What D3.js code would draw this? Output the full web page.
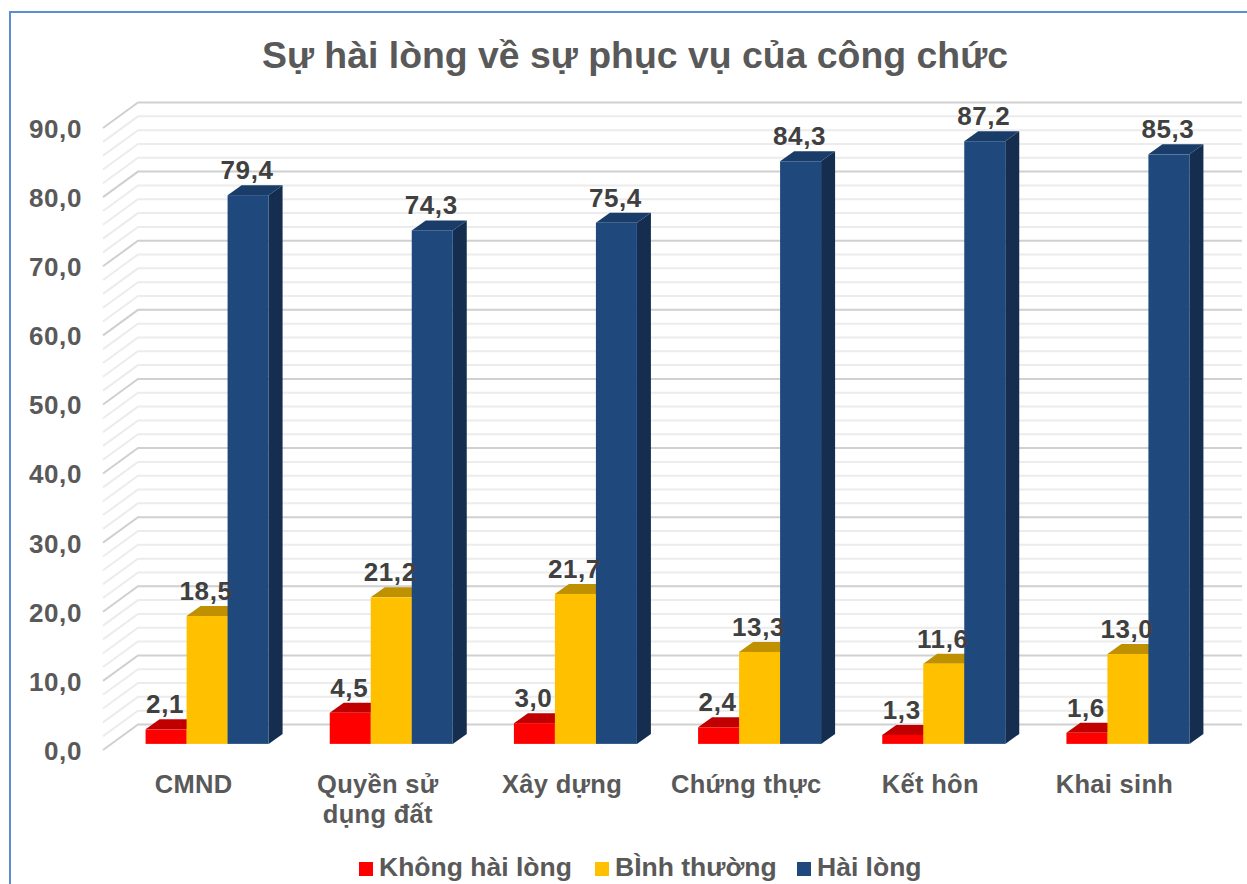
<!DOCTYPE html>
<html>
<head>
<meta charset="utf-8">
<script src="https://cdn.jsdelivr.net/npm/d3@7"></script>
<style>
  body { margin: 0; background: #fff; }
  text { font-family: "Liberation Sans", Arial, sans-serif; font-weight: bold; }
</style>
</head>
<body>
<svg id="chart" width="1247" height="884"></svg>
<script>
const categories = ["CMND", "Quyền sử|dụng đất", "Xây dựng", "Chứng thực", "Kết hôn", "Khai sinh"];
const series = ["Không hài lòng", "BÌnh thường", "Hài lòng"];
const khong_hai_long = [2.1, 4.5, 3.0, 2.4, 1.3, 1.6];
const binh_thuong = [18.5, 21.2, 21.7, 13.3, 11.6, 13.0];
const hai_long = [79.4, 74.3, 75.4, 84.3, 87.2, 85.3];
const y_ticks = [0, 10, 20, 30, 40, 50, 60, 70, 80, 90];

const svg = d3.select("svg#chart");
const W = +svg.attr("width"), H = +svg.attr("height");
const text_color = "#595959";
const label_color = "#404040";
const colors = [
  { front: "#ff0000", top: "#c00000", side: "#a00000" },
  { front: "#ffc000", top: "#bf9000", side: "#a07800" },
  { front: "#1f497d", top: "#193c68", side: "#152e50" }
];

// depth of the back wall and of the bar plane
const wall_dx = 35, wall_dy = -25.5;
const bar_depth = 0.24;
const bar_dx = 14, bar_dy = -10;

const y = d3.scaleLinear([0, 90], [750, 128]);
const x = d3.scaleBand(categories, [115 - wall_dx * bar_depth, 1220 - wall_dx * bar_depth]);
const group_w = 123;
const x1 = d3.scaleBand(series, [0, group_w]);

const data = categories.map((c, i) => ({
  cat: c,
  values: [khong_hai_long[i], binh_thuong[i], hai_long[i]]
}));

// frame
svg.append("rect")
  .attr("x", 10).attr("y", 12)
  .attr("width", W + 20).attr("height", H + 20)
  .attr("fill", "none")
  .attr("stroke", "#5b8fd0")
  .attr("stroke-width", 2);

// title
svg.append("text")
  .attr("x", 635).attr("y", 68)
  .attr("text-anchor", "middle")
  .attr("font-size", 37.4)
  .attr("fill", text_color)
  .text("Sự hài lòng về sự phục vụ của công chức");

// gridlines (side wall diagonal + back wall)
const grid_vals = d3.range(0, 91, 2);
const grid = svg.append("g").attr("id", "grid");
const x_left = 103, x_right = 1242;
grid.selectAll("path.gridline")
  .data(grid_vals)
  .join("path")
  .attr("class", "gridline")
  .attr("d", d => `M${x_left},${y(d)} L${x_left + wall_dx},${y(d) + wall_dy} L${x_right},${y(d) + wall_dy}`)
  .attr("fill", "none")
  .attr("stroke", d => d % 10 === 0 ? "#d0d0d0" : "#ececec")
  .attr("stroke-width", 2);

// y axis labels
svg.append("g").selectAll("text.ytick")
  .data(y_ticks)
  .join("text")
  .attr("class", "ytick")
  .attr("x", 82)
  .attr("y", d => y(d) + 3)
  .attr("dominant-baseline", "middle")
  .attr("text-anchor", "end")
  .attr("font-size", 26)
  .attr("letter-spacing", 0.6)
  .attr("fill", text_color)
  .text(d => d3.format(".1f")(d).replace(".", ","));

// bars
const yb = v => y(v) + wall_dy * bar_depth;
const xb = c => x(c) + x.bandwidth() / 2 - group_w / 2 + wall_dx * bar_depth;

const bars = svg.append("g").attr("id", "bars");
data.forEach(d => {
  d.values.forEach((v, j) => {
    const x0 = xb(d.cat) + x1(series[j]);
    const w = x1.bandwidth();
    const yt = yb(v), y0 = yb(0);
    const c = colors[j];
    const g = bars.append("g");
    g.append("path")
      .attr("d", `M${x0 + w},${y0} L${x0 + w + bar_dx},${y0 + bar_dy} L${x0 + w + bar_dx},${yt + bar_dy} L${x0 + w},${yt} Z`)
      .attr("fill", c.side);
    g.append("path")
      .attr("d", `M${x0},${yt} L${x0 + bar_dx},${yt + bar_dy} L${x0 + w + bar_dx},${yt + bar_dy} L${x0 + w},${yt} Z`)
      .attr("fill", c.top);
    g.append("rect")
      .attr("x", x0).attr("y", yt)
      .attr("width", w).attr("height", y0 - yt)
      .attr("fill", c.front);
  });
});

// data labels
data.forEach(d => {
  d.values.forEach((v, j) => {
    const x0 = xb(d.cat) + x1(series[j]);
    svg.append("text")
      .attr("x", x0 + x1.bandwidth() / 2 - 1)
      .attr("y", yb(v) - 16)
      .attr("text-anchor", "middle")
      .attr("font-size", 26)
      .attr("letter-spacing", 0.6)
      .attr("fill", label_color)
      .text(d3.format(".1f")(v).replace(".", ","));
  });
});

// category labels
svg.append("g").selectAll("text.cat")
  .data(categories)
  .join("text")
  .attr("class", "cat")
  .attr("x", d => x(d) + x.bandwidth() / 2 - 5)
  .attr("y", 793)
  .attr("text-anchor", "middle")
  .attr("font-size", 25.5)
  .attr("letter-spacing", 0.3)
  .attr("fill", text_color)
  .each(function (d) {
    const lines = d.split("|");
    d3.select(this).selectAll("tspan")
      .data(lines)
      .join("tspan")
      .attr("x", x(d) + x.bandwidth() / 2 - 5)
      .attr("dy", (l, i) => i === 0 ? 0 : 30)
      .text(l => l);
  });

// legend
const legend_x = [359, 595, 797];
const legend = svg.append("g").attr("id", "legend");
series.forEach((s, j) => {
  legend.append("rect")
    .attr("x", legend_x[j]).attr("y", 862)
    .attr("width", 14).attr("height", 14)
    .attr("fill", colors[j].front);
  legend.append("text")
    .attr("x", legend_x[j] + 20).attr("y", 876)
    .attr("font-size", 26.5)
    .attr("fill", text_color)
    .text(s);
});
</script>
</body>
</html>
